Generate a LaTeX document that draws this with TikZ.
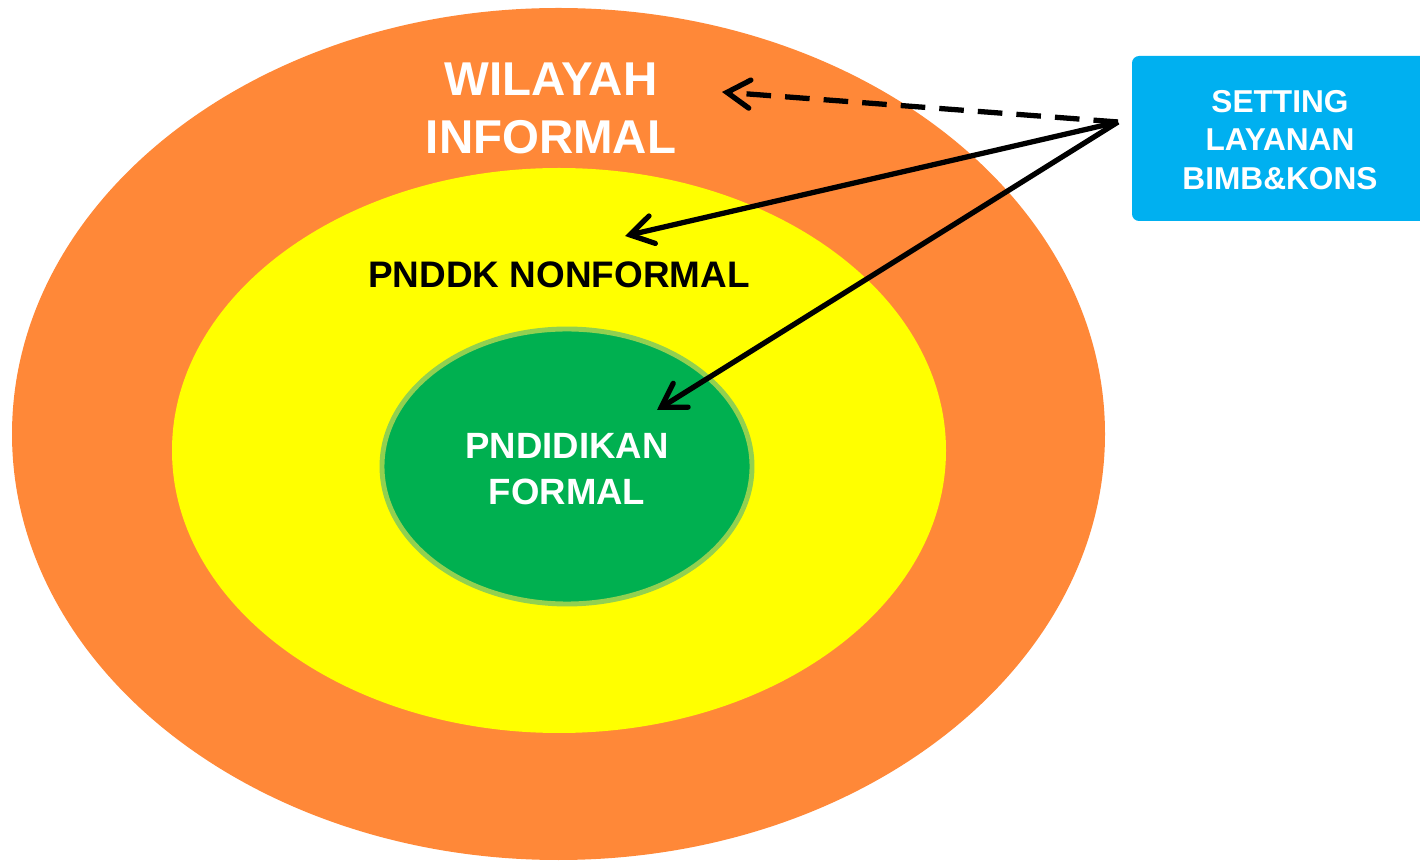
\documentclass[tikz,border=0pt]{standalone}
\usepackage{fontspec}
\setmainfont{Liberation Sans}
\usepackage{xcolor}
\usepackage{tikz}
\usetikzlibrary{shapes,positioning,arrows.meta}
\definecolor{orng}{HTML}{FF8838}
\definecolor{ylw}{HTML}{FFFF00}
\definecolor{grn}{HTML}{00B050}
\definecolor{lgrn}{HTML}{92D050}
\definecolor{blu}{HTML}{00B0F0}
\tikzset{lbl/.style={align=center,inner sep=0pt,font=\bfseries},
         arr/.style={line width=1.5pt,-{Straight Barb[length=6.5pt,width=8pt,line cap=round]}}}

\begin{document}
\begin{tikzpicture}
    \useasboundingbox (0,0) rectangle (14.2,8.6);
    \fill[orng] (5.585,4.26) ellipse [x radius=5.465,y radius=4.26];
    \fill[ylw] (5.59,4.095) ellipse [x radius=3.87,y radius=2.825];
    \draw[fill=grn,draw=lgrn,line width=1.4pt] (5.67,3.935) ellipse [x radius=1.85,y radius=1.375];
    \fill[blu,rounded corners=2pt] (11.32,6.39) rectangle (14.3,8.04);

    \node[lbl,white,font=\bfseries\fontsize{13.5}{16.5}\selectfont] (wil) at (5.51,7.52) {WILAYAH\\INFORMAL};
    \node[lbl,black,font=\bfseries\fontsize{10.5}{12}\selectfont] (nonf) at (5.59,5.85) {PNDDK NONFORMAL};
    \node[lbl,white,font=\bfseries\fontsize{10.4}{13.1}\selectfont] (form) at (5.67,3.91) {PNDIDIKAN\\FORMAL};
    \node[lbl,white,font=\bfseries\fontsize{9}{11}\selectfont] (set) at (12.8,7.2) {SETTING\\LAYANAN\\BIMB\&KONS};

    \coordinate (src) at (11.18,7.38);
    \coordinate (toinf) at (7.22,7.68);
    \coordinate (tonon) at (6.25,6.24);
    \coordinate (tofor) at (6.57,4.50);

    \draw [arr,dash pattern=on 7pt off 4pt] (src) -- (toinf);
    \draw [arr] (src) -- (tonon);
    \draw [arr] (src) -- (tofor);
\end{tikzpicture}
\end{document}
